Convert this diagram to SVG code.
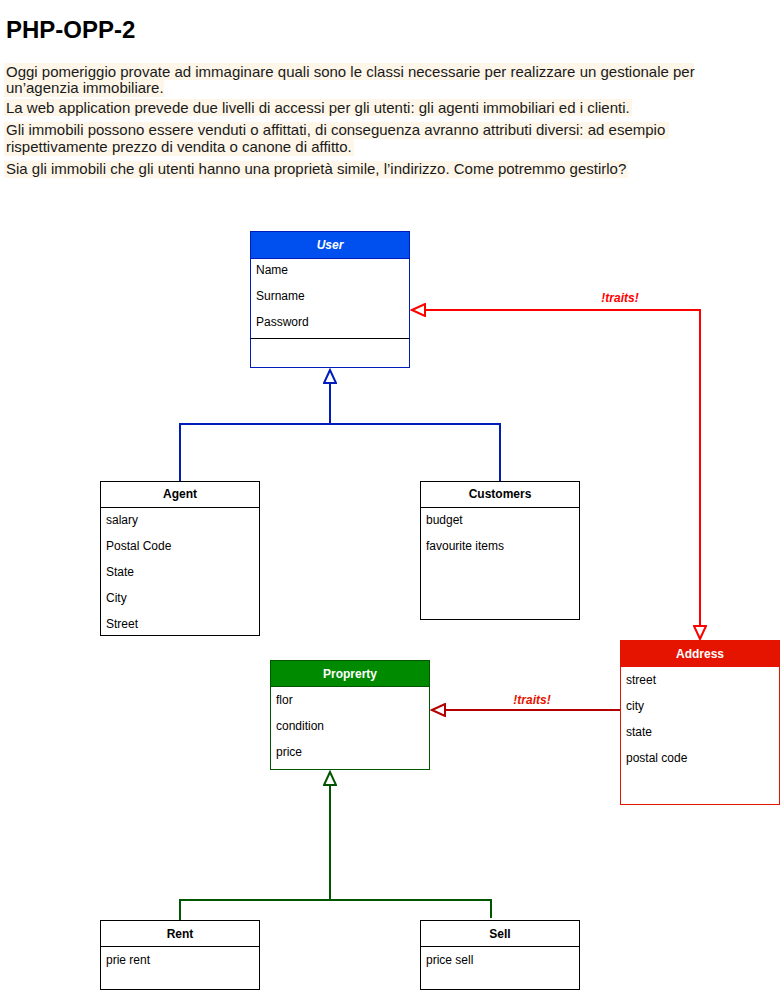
<svg xmlns="http://www.w3.org/2000/svg" width="781" height="991" viewBox="0 0 781 991">
<style>
text{font-family:"Liberation Sans",Arial,Helvetica,sans-serif;}
.para{font-size:15px;fill:#1a1a1a;}
.hl{fill:#fdf6e9;}
.hdr{font-size:12px;font-weight:bold;text-anchor:middle;}
.item{font-size:12px;fill:#000;}
.box{fill:#fff;stroke:#000;stroke-width:1;}
.lbl{font-size:12px;font-weight:bold;font-style:italic;}
</style>
<defs>
<marker id="triBlue" markerWidth="16" markerHeight="14" refX="14" refY="7" orient="auto-start-reverse" markerUnits="userSpaceOnUse" viewBox="0 0 16 14">
<path d="M14,7 L1,1 L1,13 Z" fill="#fff" stroke="#001dbc" stroke-width="2"/>
</marker>
<marker id="triGreen" markerWidth="16" markerHeight="14" refX="14" refY="7" orient="auto-start-reverse" markerUnits="userSpaceOnUse" viewBox="0 0 16 14">
<path d="M14,7 L1,1 L1,13 Z" fill="#fff" stroke="#005700" stroke-width="2"/>
</marker>
<marker id="triRed" markerWidth="16" markerHeight="14" refX="14" refY="7" orient="auto-start-reverse" markerUnits="userSpaceOnUse" viewBox="0 0 16 14">
<path d="M14,7 L1,1 L1,13 Z" fill="#fff" stroke="#ff0000" stroke-width="2"/>
</marker>
<marker id="triDark" markerWidth="16" markerHeight="14" refX="14" refY="7" orient="auto-start-reverse" markerUnits="userSpaceOnUse" viewBox="0 0 16 14">
<path d="M14,7 L1,1 L1,13 Z" fill="#fff" stroke="#b20000" stroke-width="2"/>
</marker>
</defs>
<rect width="781" height="991" fill="#fff"/>

<g id="intro">
<text x="6" y="38" font-size="24" font-weight="bold" fill="#000">PHP-OPP-2</text>
<rect class="hl" x="4" y="63" width="690" height="17"/>
<rect class="hl" x="4" y="80" width="160" height="17"/>
<rect class="hl" x="4" y="99" width="628" height="17"/>
<rect class="hl" x="4" y="122" width="665" height="17"/>
<rect class="hl" x="4" y="139" width="350" height="17"/>
<rect class="hl" x="4" y="161" width="624" height="17"/>
<text class="para" x="6" y="77">Oggi pomeriggio provate ad immaginare quali sono le classi necessarie per realizzare un gestionale per</text>
<text class="para" x="6" y="93">un’agenzia immobiliare.</text>
<text class="para" x="6" y="113">La web application prevede due livelli di accessi per gli utenti: gli agenti immobiliari ed i clienti.</text>
<text class="para" x="6" y="135">Gli immobili possono essere venduti o affittati, di conseguenza avranno attributi diversi: ad esempio</text>
<text class="para" x="6" y="152">rispettivamente prezzo di vendita o canone di affitto.</text>
<text class="para" x="6" y="174">Sia gli immobili che gli utenti hanno una proprietà simile, l’indirizzo. Come potremmo gestirlo?</text>
</g>

<g id="connectors" fill="none">
<path d="M180,481 V424 H500 V481" stroke="#001dbc" stroke-width="2"/>
<path d="M330,424 V370" stroke="#001dbc" stroke-width="2" marker-end="url(#triBlue)"/>
<path d="M700,639 V310 H412" stroke="#ff0000" stroke-width="2" marker-start="url(#triRed)" marker-end="url(#triRed)"/>
<path d="M620,710 H432" stroke="#b20000" stroke-width="2" marker-end="url(#triDark)"/>
<path d="M180,920 V900 H491 V918" stroke="#005700" stroke-width="2"/>
<path d="M330,900 V772" stroke="#005700" stroke-width="2" marker-end="url(#triGreen)"/>
<text class="lbl" x="620" y="302" text-anchor="middle" fill="#ff0000">!traits!</text>
<text class="lbl" x="532" y="704" text-anchor="middle" fill="#e51400">!traits!</text>
</g>

<g id="user">
<rect x="250.5" y="231.5" width="159" height="136" fill="#fff" stroke="#001dbc"/>
<rect x="250.5" y="231.5" width="159" height="27" fill="#0050ef" stroke="#001dbc"/>
<text class="hdr" x="330" y="249" fill="#fff" font-style="italic">User</text>
<text class="item" x="256" y="274">Name</text>
<text class="item" x="256" y="300">Surname</text>
<text class="item" x="256" y="326">Password</text>
<line x1="250.5" y1="338.5" x2="409.5" y2="338.5" stroke="#000"/>
</g>

<g id="agent">
<rect class="box" x="100.5" y="481.5" width="159" height="154"/>
<line x1="100.5" y1="507.5" x2="259.5" y2="507.5" stroke="#000"/>
<text class="hdr" x="180" y="498">Agent</text>
<text class="item" x="106" y="524">salary</text>
<text class="item" x="106" y="550">Postal Code</text>
<text class="item" x="106" y="576">State</text>
<text class="item" x="106" y="602">City</text>
<text class="item" x="106" y="628">Street</text>
</g>

<g id="customers">
<rect class="box" x="420.5" y="481.5" width="159" height="138"/>
<line x1="420.5" y1="507.5" x2="579.5" y2="507.5" stroke="#000"/>
<text class="hdr" x="500" y="498">Customers</text>
<text class="item" x="426" y="524">budget</text>
<text class="item" x="426" y="550">favourite items</text>
</g>

<g id="address">
<rect x="620.5" y="640.5" width="159" height="164" fill="#fff" stroke="#e51400"/>
<rect x="620.5" y="640.5" width="159" height="26" fill="#e51400" stroke="#e51400"/>
<text class="hdr" x="700" y="658" fill="#fff">Address</text>
<text class="item" x="626" y="684">street</text>
<text class="item" x="626" y="710">city</text>
<text class="item" x="626" y="736">state</text>
<text class="item" x="626" y="762">postal code</text>
</g>

<g id="property">
<rect x="270.5" y="660.5" width="159" height="109" fill="#fff" stroke="#005700"/>
<rect x="270.5" y="660.5" width="159" height="26" fill="#008a00" stroke="#005700"/>
<text class="hdr" x="350" y="678" fill="#fff">Proprerty</text>
<text class="item" x="276" y="704">flor</text>
<text class="item" x="276" y="730">condition</text>
<text class="item" x="276" y="756">price</text>
</g>

<g id="rent">
<rect class="box" x="100.5" y="920.5" width="159" height="69"/>
<line x1="100.5" y1="946.5" x2="259.5" y2="946.5" stroke="#000"/>
<text class="hdr" x="180" y="938">Rent</text>
<text class="item" x="106" y="964">prie rent</text>
</g>

<g id="sell">
<rect class="box" x="420.5" y="920.5" width="159" height="69"/>
<line x1="420.5" y1="946.5" x2="579.5" y2="946.5" stroke="#000"/>
<text class="hdr" x="500" y="938">Sell</text>
<text class="item" x="426" y="964">price sell</text>
</g>
</svg>
